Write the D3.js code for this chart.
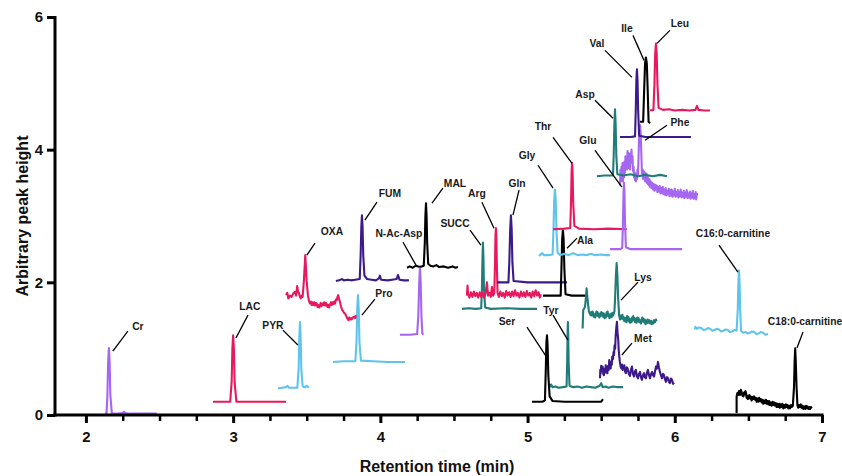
<!DOCTYPE html>
<html>
<head>
<meta charset="utf-8">
<script src="https://cdn.jsdelivr.net/npm/d3@7"></script>
<style>
  html, body { margin: 0; padding: 0; background: #fff; }
  svg { display: block; font-family: "Liberation Sans", Arial, sans-serif; }
</style>
</head>
<body>
<svg id="chart" width="842" height="476"></svg>
<script>
// ---------------- DATA ----------------
// Axis ticks
const xMajorTicks = [2, 3, 4, 5, 6, 7];
const xMinorTicks = [2.25, 2.5, 2.75, 3.25, 3.5, 3.75, 4.25, 4.5, 4.75, 5.25, 5.5, 5.75, 6.25, 6.5, 6.75];
const yTicks = [0, 2, 4, 6];

// Compound names (label text) and their colour groups
const compounds = ["Cr","LAC","PYR","Pro","OXA","FUM","MAL","N-Ac-Asp","SUCC","Arg","Gln","Ala","Gly","Thr",
  "Glu","Phe","Asp","Val","Ile","Leu","Lys","Tyr","Ser","Met","C16:0-carnitine","C18:0-carnitine"];
const colourGroup = ["lpurple","crimson","lblue","lblue","crimson","dpurple","black","lpurple","teal","crimson","dpurple","black","lblue","crimson",
  "lpurple","lpurple","teal","dpurple","black","crimson","teal","teal","black","dpurple","lblue","black"];

// Traces: [retention time (min), arbitrary peak height]
const trCr = [[2.129,0.02],[2.140,0.02],[2.146,0.3],[2.151,0.8],[2.156,1.01],[2.161,0.8],[2.166,0.3],[2.176,0.02],[2.2,0.02],[2.25,0.03],[2.258,0.05],[2.265,0.03],[2.3,0.02],[2.482,0.02]];
const trLAC = [[2.863,0.2],[2.98,0.2],[2.99,0.5],[2.995,1.0],[3.0,1.2],[3.005,1.0],[3.01,0.5],[3.022,0.2],[3.359,0.2]];
const trPYR = [[3.304,0.40],[3.33,0.41],[3.36,0.42],[3.37,0.44],[3.38,0.41],[3.42,0.41],[3.436,0.41],[3.445,0.7],[3.45,1.2],[3.454,1.40],[3.458,1.2],[3.463,0.7],[3.472,0.43],[3.49,0.42],[3.50,0.44],[3.515,0.41]];
const trPro = [[3.678,0.8],[3.75,0.81],[3.83,0.81],[3.838,1.1],[3.843,1.6],[3.848,1.81],[3.853,1.6],[3.858,1.1],[3.868,0.82],[3.95,0.81],[4.05,0.80],[4.167,0.80]];
const trOXA = [[3.359,1.807],[3.368,1.842],[3.375,1.757],[3.386,1.80],[3.397,1.782],[3.408,1.83],[3.420,1.857],[3.428,1.80],[3.435,1.943],[3.441,1.86],[3.447,1.837],[3.453,1.79],[3.459,1.757],[3.466,1.80],[3.472,1.782],[3.481,2.033],[3.490,2.41],[3.499,2.033],[3.508,1.807],[3.515,1.72],[3.522,1.682],[3.528,1.71],[3.533,1.66],[3.539,1.70],[3.544,1.657],[3.550,1.70],[3.556,1.65],[3.561,1.69],[3.567,1.682],[3.573,1.63],[3.578,1.66],[3.584,1.62],[3.590,1.651],[3.595,1.69],[3.600,1.64],[3.606,1.68],[3.612,1.657],[3.618,1.70],[3.624,1.65],[3.630,1.69],[3.635,1.672],[3.640,1.63],[3.646,1.66],[3.652,1.62],[3.658,1.662],[3.664,1.70],[3.670,1.66],[3.675,1.70],[3.680,1.672],[3.686,1.71],[3.692,1.68],[3.698,1.74],[3.703,1.732],[3.709,1.78],[3.714,1.807],[3.720,1.74],[3.726,1.706],[3.732,1.64],[3.737,1.607],[3.743,1.58],[3.748,1.56],[3.754,1.54],[3.760,1.532],[3.766,1.50],[3.771,1.48],[3.777,1.45],[3.782,1.431],[3.788,1.47],[3.794,1.44],[3.800,1.46],[3.805,1.441],[3.813,1.47],[3.821,1.480],[3.828,1.46],[3.834,1.506]];
const trFUM = [[3.698,2.02],[3.72,2.03],[3.74,2.05],[3.75,2.03],[3.78,2.04],[3.80,2.03],[3.83,2.04],[3.86,2.05],[3.866,2.4],[3.871,2.85],[3.875,3.01],[3.879,2.85],[3.884,2.4],[3.892,2.1],[3.91,2.05],[3.94,2.04],[3.97,2.03],[3.99,2.06],[3.997,2.10],[4.005,2.04],[4.05,2.03],[4.08,2.04],[4.11,2.05],[4.12,2.11],[4.13,2.04],[4.16,2.03],[4.194,2.03]];
const trMAL = [[4.181,2.22],[4.20,2.24],[4.22,2.22],[4.24,2.25],[4.27,2.23],[4.295,2.25],[4.302,2.6],[4.306,3.0],[4.31,3.19],[4.314,3.0],[4.318,2.6],[4.325,2.28],[4.34,2.25],[4.36,2.24],[4.38,2.26],[4.40,2.23],[4.43,2.24],[4.46,2.22],[4.49,2.24],[4.51,2.22],[4.527,2.23]];
const trNAcAsp = [[4.133,1.21],[4.20,1.21],[4.25,1.22],[4.258,1.5],[4.264,2.0],[4.269,2.21],[4.274,2.0],[4.279,1.5],[4.285,1.23],[4.292,1.21]];
const trSUCC = [[4.554,1.60],[4.60,1.61],[4.65,1.60],[4.685,1.61],[4.690,1.9],[4.694,2.4],[4.697,2.6],[4.700,2.4],[4.704,1.9],[4.712,1.62],[4.75,1.60],[4.85,1.61],[4.95,1.60],[5.064,1.60]];
const trArg = [[4.588,1.80],[4.592,1.95],[4.596,1.82],[4.605,1.77],[4.615,1.85],[4.625,1.78],[4.635,1.86],[4.645,1.79],[4.655,1.84],[4.665,1.77],[4.675,1.85],[4.685,1.78],[4.695,1.84],[4.705,1.77],[4.715,1.83],[4.724,2.00],[4.732,1.80],[4.742,1.84],[4.750,1.78],[4.758,1.93],[4.766,1.80],[4.774,1.84],[4.779,2.3],[4.782,2.7],[4.785,2.82],[4.788,2.7],[4.791,2.3],[4.796,1.84],[4.805,1.78],[4.815,1.86],[4.825,1.79],[4.835,1.84],[4.845,1.77],[4.855,1.87],[4.865,1.80],[4.875,1.85],[4.885,1.78],[4.895,1.86],[4.905,1.79],[4.915,1.88],[4.925,1.80],[4.935,1.84],[4.945,1.77],[4.955,1.86],[4.965,1.79],[4.975,1.85],[4.985,1.78],[4.995,1.87],[5.005,1.80],[5.015,1.84],[5.025,1.77],[5.035,1.86],[5.045,1.79],[5.055,1.88],[5.065,1.80],[5.075,1.85],[5.083,1.77],[5.091,1.82]];
const trGln = [[4.792,2.0],[4.87,2.0],[4.876,2.3],[4.882,2.8],[4.887,3.01],[4.892,2.8],[4.897,2.3],[4.905,2.02],[5.0,2.0],[5.1,2.0],[5.268,2.0]];
const trAla = [[5.105,1.80],[5.225,1.80],[5.23,2.2],[5.235,2.65],[5.24,2.79],[5.245,2.65],[5.25,2.2],[5.258,1.82],[5.30,1.80],[5.35,1.80],[5.40,1.80],[5.404,1.74]];
const trGly = [[5.077,2.40],[5.09,2.42],[5.10,2.44],[5.11,2.41],[5.14,2.41],[5.17,2.42],[5.176,2.8],[5.181,3.25],[5.186,3.40],[5.191,3.25],[5.196,2.8],[5.204,2.45],[5.22,2.41],[5.25,2.43],[5.28,2.41],[5.31,2.44],[5.34,2.41],[5.37,2.42],[5.40,2.41],[5.43,2.43],[5.46,2.41],[5.50,2.42],[5.53,2.41],[5.56,2.41]];
const trThr = [[5.173,2.80],[5.25,2.81],[5.29,2.82],[5.295,3.2],[5.299,3.65],[5.302,3.80],[5.306,3.65],[5.31,3.2],[5.318,2.85],[5.35,2.81],[5.45,2.80],[5.55,2.81],[5.675,2.80]];
const trGlu = [[5.560,2.50],[5.63,2.50],[5.643,2.52],[5.648,2.9],[5.652,3.35],[5.655,3.5],[5.658,3.35],[5.662,2.9],[5.668,2.53],[5.70,2.50],[5.80,2.50],[5.90,2.50],[6.049,2.50]];
const trPhe = [[5.628,3.46],[5.631,3.70],[5.634,3.52],[5.638,3.74],[5.641,3.60],[5.645,3.80],[5.648,3.52],[5.652,3.72],[5.655,3.58],[5.658,3.82],[5.661,3.65],[5.665,3.90],[5.668,3.74],[5.672,3.86],[5.675,3.70],[5.679,3.98],[5.682,3.80],[5.686,3.95],[5.689,3.72],[5.693,3.88],[5.696,3.70],[5.699,3.94],[5.702,3.80],[5.706,4.00],[5.709,3.82],[5.713,3.90],[5.716,3.68],[5.720,3.74],[5.723,3.58],[5.727,3.66],[5.730,3.54],[5.733,3.62],[5.736,3.52],[5.740,3.64],[5.743,3.56],[5.747,3.70],[5.750,3.62],[5.754,3.90],[5.757,4.14],[5.761,4.30],[5.764,4.37],[5.767,4.30],[5.770,4.14],[5.774,3.85],[5.777,3.64],[5.781,3.70],[5.784,3.56],[5.788,3.68],[5.791,3.58],[5.795,3.66],[5.798,3.52],[5.801,3.62],[5.804,3.56],[5.808,3.64],[5.811,3.50],[5.815,3.60],[5.818,3.48],[5.822,3.56],[5.825,3.46],[5.829,3.55],[5.832,3.44],[5.837,3.52],[5.842,3.42],[5.847,3.50],[5.852,3.40],[5.857,3.48],[5.862,3.38],[5.867,3.47],[5.872,3.40],[5.877,3.46],[5.882,3.36],[5.887,3.44],[5.893,3.37],[5.898,3.45],[5.903,3.34],[5.908,3.42],[5.913,3.35],[5.918,3.44],[5.923,3.33],[5.928,3.40],[5.933,3.32],[5.938,3.42],[5.944,3.31],[5.949,3.38],[5.954,3.33],[5.959,3.41],[5.964,3.30],[5.969,3.39],[5.974,3.31],[5.979,3.40],[5.985,3.29],[5.990,3.37],[5.995,3.31],[6.000,3.41],[6.005,3.29],[6.010,3.36],[6.015,3.30],[6.020,3.39],[6.025,3.28],[6.030,3.36],[6.035,3.30],[6.040,3.40],[6.046,3.28],[6.051,3.35],[6.056,3.29],[6.061,3.38],[6.066,3.27],[6.071,3.35],[6.076,3.29],[6.081,3.39],[6.087,3.27],[6.092,3.34],[6.097,3.28],[6.102,3.37],[6.107,3.26],[6.112,3.34],[6.117,3.28],[6.122,3.38],[6.127,3.26],[6.132,3.33],[6.137,3.27],[6.142,3.36],[6.145,3.25],[6.151,3.35]];
const trAsp = [[5.471,3.60],[5.52,3.61],[5.58,3.61],[5.585,3.9],[5.59,4.4],[5.594,4.61],[5.598,4.4],[5.603,3.9],[5.61,3.63],[5.65,3.61],[5.70,3.63],[5.75,3.60],[5.80,3.62],[5.85,3.60],[5.90,3.62],[5.947,3.60]];
const trVal = [[5.628,4.19],[5.70,4.19],[5.73,4.20],[5.735,4.6],[5.739,5.05],[5.743,5.21],[5.747,5.05],[5.751,4.6],[5.758,4.21],[5.80,4.19],[5.90,4.19],[6.0,4.19],[6.110,4.19]];
const trIle = [[5.764,4.42],[5.785,4.42],[5.792,4.9],[5.798,5.3],[5.804,5.39],[5.81,5.3],[5.816,4.9],[5.822,4.42],[5.832,4.40]];
const trLeu = [[5.832,4.59],[5.855,4.60],[5.862,5.0],[5.867,5.45],[5.872,5.60],[5.877,5.45],[5.882,5.0],[5.89,4.63],[5.92,4.60],[5.96,4.61],[6.00,4.59],[6.05,4.60],[6.10,4.59],[6.14,4.60],[6.151,4.66],[6.16,4.60],[6.20,4.59],[6.239,4.59]];
const trLys = [[5.374,1.305],[5.378,1.58],[5.390,1.63],[5.397,1.78],[5.401,1.91],[5.408,1.73],[5.417,1.556],[5.428,1.506],[5.432,1.55],[5.437,1.50],[5.441,1.56],[5.446,1.54],[5.450,1.48],[5.455,1.52],[5.460,1.47],[5.465,1.526],[5.468,1.56],[5.472,1.50],[5.476,1.55],[5.480,1.49],[5.484,1.52],[5.488,1.47],[5.492,1.53],[5.496,1.49],[5.500,1.55],[5.505,1.50],[5.509,1.54],[5.514,1.48],[5.518,1.53],[5.523,1.46],[5.528,1.51],[5.533,1.47],[5.537,1.55],[5.540,1.50],[5.544,1.56],[5.548,1.49],[5.552,1.52],[5.556,1.46],[5.560,1.51],[5.564,1.47],[5.569,1.53],[5.573,1.48],[5.578,1.54],[5.582,1.50],[5.590,1.56],[5.594,1.73],[5.600,2.10],[5.605,2.29],[5.610,2.10],[5.616,1.73],[5.622,1.50],[5.628,1.44],[5.633,1.50],[5.639,1.45],[5.644,1.51],[5.650,1.46],[5.655,1.42],[5.659,1.47],[5.664,1.41],[5.668,1.46],[5.672,1.40],[5.676,1.49],[5.680,1.43],[5.684,1.48],[5.688,1.41],[5.693,1.45],[5.697,1.39],[5.702,1.44],[5.706,1.40],[5.710,1.47],[5.714,1.42],[5.718,1.49],[5.722,1.43],[5.727,1.46],[5.731,1.40],[5.736,1.45],[5.740,1.39],[5.745,1.47],[5.750,1.41],[5.754,1.46],[5.760,1.40],[5.765,1.43],[5.770,1.38],[5.775,1.425],[5.779,1.47],[5.783,1.41],[5.787,1.45],[5.791,1.40],[5.796,1.44],[5.800,1.37],[5.805,1.42],[5.809,1.38],[5.815,1.44],[5.820,1.39],[5.826,1.43],[5.832,1.38],[5.838,1.42],[5.843,1.37],[5.849,1.41],[5.854,1.38],[5.860,1.43],[5.866,1.40],[5.872,1.44],[5.877,1.416]];
const trTyr = [[5.152,0.42],[5.16,0.46],[5.17,0.42],[5.19,0.43],[5.21,0.41],[5.24,0.42],[5.265,0.43],[5.269,0.8],[5.272,1.25],[5.274,1.40],[5.276,1.25],[5.279,0.8],[5.285,0.44],[5.31,0.42],[5.34,0.43],[5.37,0.41],[5.40,0.43],[5.43,0.42],[5.46,0.41],[5.49,0.44],[5.50,0.48],[5.51,0.42],[5.53,0.43],[5.55,0.41],[5.58,0.43],[5.61,0.42],[5.648,0.42]];
const trSer = [[5.030,0.20],[5.10,0.20],[5.118,0.22],[5.124,0.7],[5.128,1.1],[5.132,1.2],[5.136,1.05],[5.141,0.6],[5.15,0.28],[5.17,0.21],[5.25,0.20],[5.40,0.20],[5.50,0.20],[5.512,0.24]];
const trMet = [[5.492,0.553],[5.494,0.68],[5.496,0.62],[5.500,0.74],[5.505,0.66],[5.510,0.73],[5.514,0.62],[5.519,0.60],[5.524,0.70],[5.528,0.64],[5.531,0.75],[5.536,0.66],[5.542,0.63],[5.547,0.74],[5.551,0.68],[5.555,0.83],[5.560,0.74],[5.564,0.70],[5.569,0.80],[5.572,0.76],[5.575,0.88],[5.580,0.84],[5.584,0.95],[5.587,0.90],[5.591,1.05],[5.595,1.00],[5.598,1.18],[5.602,1.30],[5.607,1.405],[5.611,1.25],[5.616,1.13],[5.619,0.98],[5.623,0.88],[5.627,0.80],[5.632,0.73],[5.638,0.70],[5.642,0.76],[5.646,0.68],[5.651,0.72],[5.657,0.75],[5.662,0.66],[5.668,0.63],[5.674,0.72],[5.680,0.70],[5.688,0.62],[5.696,0.59],[5.702,0.68],[5.709,0.73],[5.716,0.62],[5.723,0.58],[5.730,0.66],[5.736,0.68],[5.743,0.58],[5.750,0.553],[5.757,0.62],[5.764,0.65],[5.770,0.57],[5.777,0.53],[5.784,0.60],[5.791,0.63],[5.797,0.57],[5.804,0.553],[5.811,0.64],[5.818,0.68],[5.825,0.60],[5.832,0.553],[5.839,0.62],[5.846,0.65],[5.852,0.60],[5.859,0.58],[5.866,0.66],[5.872,0.73],[5.879,0.70],[5.886,0.80],[5.892,0.72],[5.899,0.65],[5.906,0.60],[5.913,0.553],[5.920,0.62],[5.927,0.60],[5.933,0.54],[5.940,0.50],[5.947,0.57],[5.954,0.553],[5.960,0.50],[5.967,0.48],[5.974,0.55],[5.981,0.53],[5.988,0.47],[5.995,0.49]];
const trC16 = [[6.137,1.29],[6.14,1.33],[6.15,1.30],[6.165,1.32],[6.18,1.31],[6.195,1.28],[6.21,1.29],[6.225,1.31],[6.24,1.30],[6.255,1.27],[6.27,1.28],[6.285,1.30],[6.30,1.29],[6.315,1.26],[6.33,1.27],[6.345,1.29],[6.36,1.28],[6.375,1.25],[6.39,1.26],[6.405,1.28],[6.42,1.27],[6.428,1.6],[6.432,2.0],[6.436,2.18],[6.44,2.0],[6.444,1.6],[6.45,1.27],[6.465,1.24],[6.48,1.25],[6.495,1.23],[6.51,1.24],[6.525,1.26],[6.54,1.25],[6.555,1.22],[6.57,1.23],[6.585,1.25],[6.60,1.24],[6.615,1.21],[6.633,1.22]];
const trC18 = [[6.42,0.03],[6.42,0.28],[6.425,0.33],[6.43,0.30],[6.436,0.36],[6.443,0.30],[6.449,0.38],[6.455,0.34],[6.460,0.29],[6.466,0.28],[6.471,0.34],[6.476,0.31],[6.480,0.36],[6.484,0.33],[6.488,0.26],[6.492,0.29],[6.496,0.24],[6.50,0.27],[6.506,0.30],[6.511,0.25],[6.516,0.28],[6.522,0.22],[6.528,0.27],[6.533,0.24],[6.539,0.28],[6.545,0.23],[6.550,0.26],[6.556,0.20],[6.561,0.25],[6.567,0.20],[6.573,0.26],[6.578,0.21],[6.584,0.24],[6.59,0.19],[6.596,0.23],[6.601,0.17],[6.607,0.22],[6.613,0.18],[6.619,0.23],[6.624,0.17],[6.630,0.21],[6.635,0.16],[6.641,0.21],[6.646,0.15],[6.652,0.19],[6.658,0.14],[6.664,0.20],[6.669,0.15],[6.675,0.19],[6.681,0.14],[6.686,0.18],[6.692,0.12],[6.698,0.17],[6.703,0.12],[6.709,0.17],[6.714,0.11],[6.720,0.16],[6.726,0.12],[6.731,0.17],[6.737,0.10],[6.743,0.15],[6.749,0.11],[6.754,0.16],[6.76,0.12],[6.766,0.15],[6.771,0.10],[6.777,0.14],[6.783,0.10],[6.789,0.15],[6.794,0.12],[6.802,0.14],[6.81,0.43],[6.814,0.8],[6.818,1.005],[6.822,0.8],[6.827,0.43],[6.833,0.15],[6.838,0.11],[6.844,0.15],[6.85,0.12],[6.856,0.16],[6.861,0.11],[6.867,0.14],[6.873,0.09],[6.879,0.13],[6.885,0.09],[6.891,0.14],[6.897,0.10],[6.902,0.13],[6.908,0.09],[6.914,0.12],[6.919,0.09],[6.925,0.12],[6.93,0.10]];

const traces = [trCr, trLAC, trPYR, trPro, trOXA, trFUM, trMAL, trNAcAsp, trSUCC, trArg, trGln, trAla, trGly, trThr,
  trGlu, trPhe, trAsp, trVal, trIle, trLeu, trLys, trTyr, trSer, trMet, trC16, trC18];

// Label annotations (data units): text centre, leader start, leader end
const labelAt = [[2.353,1.34],[3.114,1.64],[3.270,1.355],[4.024,1.837],[3.671,2.771],[4.065,3.343],[4.507,3.494],[4.126,2.741],[4.507,2.892],[4.656,3.343],[4.928,3.494],[5.390,2.636],[4.996,3.916],[5.105,4.352],
  [5.410,4.142],[6.035,4.413],[5.390,4.834],[5.471,5.602],[5.675,5.828],[6.035,5.904],[5.784,2.078],[5.159,1.581],[4.860,1.416],[5.784,1.16],[6.395,2.741],[6.885,1.416]];
const leaderFrom = [[2.285,1.265],[3.101,1.506],[3.338,1.28],[3.963,1.747],[3.556,2.59],[3.977,3.208],[4.425,3.419],[4.154,2.605],[4.609,2.786],[4.690,3.208],[4.942,3.389],[5.336,2.666],[5.071,3.765],[5.173,4.187],
  [5.458,3.991],[5.947,4.367],[5.458,4.744],[5.526,5.497],[5.716,5.723],[5.967,5.798],[5.750,2.003],[5.173,1.506],[4.996,1.325],[5.709,1.084],[6.300,2.56],[6.871,1.25]];
const leaderTo = [[2.183,0.964],[3.019,1.16],[3.44,1.054],[3.875,1.506],[3.501,2.41],[3.895,2.937],[4.351,3.193],[4.242,2.259],[4.683,2.56],[4.772,2.816],[4.901,3.012],[5.268,2.515],[5.173,3.419],[5.302,3.795],
  [5.641,3.434],[5.798,4.142],[5.580,4.473],[5.709,5.09],[5.791,5.346],[5.879,5.602],[5.635,1.732],[5.274,1.13],[5.125,0.889],[5.641,0.904],[6.429,2.154],[6.830,1.009]];

// ---------------- STYLE ----------------
const palette = {
  lpurple: "#a566f0",
  crimson: "#e8185e",
  lblue:   "#5ec4ec",
  dpurple: "#3c1a8a",
  teal:    "#1f7c77",
  black:   "#000000"
};

// ---------------- DRAW ----------------
const svg = d3.select("#chart");
const x = d3.scaleLinear().domain([1.79, 7]).range([55, 822]);
const y = d3.scaleLinear().domain([0, 6]).range([415, 17]);

const line = d3.line().x(d => x(d[0])).y(d => y(d[1])).curve(d3.curveLinear);

const gTraces = svg.append("g");
gTraces.selectAll("path")
  .data(traces)
  .join("path")
  .attr("d", d => line(d))
  .attr("fill", "none")
  .attr("stroke", (d, i) => palette[colourGroup[i]])
  .attr("stroke-width", 2.1)
  .attr("stroke-linejoin", "round");

// Leader lines
svg.append("g").selectAll("line")
  .data(compounds)
  .join("line")
  .attr("x1", (d, i) => x(leaderFrom[i][0]))
  .attr("y1", (d, i) => y(leaderFrom[i][1]))
  .attr("x2", (d, i) => x(leaderTo[i][0]))
  .attr("y2", (d, i) => y(leaderTo[i][1]))
  .attr("stroke", "#000")
  .attr("stroke-width", 1.3);

// Labels
svg.append("g").selectAll("text")
  .data(compounds)
  .join("text")
  .attr("x", (d, i) => x(labelAt[i][0]))
  .attr("y", (d, i) => y(labelAt[i][1]))
  .attr("text-anchor", "middle")
  .attr("dominant-baseline", "central")
  .attr("font-size", "10.3px")
  .attr("font-weight", "bold")
  .attr("fill", "#1a1a1a")
  .text(d => d);

// Axes
const xAxisMinor = d3.axisBottom(x).tickValues(xMinorTicks).tickSize(6).tickSizeOuter(0).tickFormat("");
const xAxis = d3.axisBottom(x).tickValues(xMajorTicks).tickSize(8).tickSizeOuter(0).tickPadding(8).tickFormat(d3.format("d"));
const yAxis = d3.axisLeft(y).tickValues(yTicks).tickSize(8).tickSizeOuter(0).tickPadding(4).tickFormat(d3.format("d"));

const gxm = svg.append("g").attr("transform", "translate(0,415)").call(xAxisMinor);
gxm.select(".domain").remove();
gxm.selectAll(".tick line").attr("stroke-width", 2.5);

const gx = svg.append("g").attr("transform", "translate(0,415)").call(xAxis);
gx.select(".domain").attr("stroke-width", 3).attr("d", `M53,0H${x(7)+1.5}`);
gx.selectAll(".tick line").attr("stroke-width", 3);
gx.selectAll(".tick text").attr("font-size", "15px").attr("font-weight", "bold")
  .attr("font-family", "'Liberation Sans', Arial, sans-serif").attr("fill", "#111");

const gy = svg.append("g").attr("transform", "translate(55,0)").call(yAxis);
gy.select(".domain").attr("stroke-width", 3).attr("d", `M0,${y(0)+1.5}V${y(6)-1}`);
gy.selectAll(".tick line").attr("stroke-width", 3);
gy.selectAll(".tick text").attr("font-size", "15px").attr("font-weight", "bold")
  .attr("font-family", "'Liberation Sans', Arial, sans-serif").attr("fill", "#111");

// Axis titles
svg.append("text")
  .attr("x", 437).attr("y", 466)
  .attr("text-anchor", "middle").attr("dominant-baseline", "central")
  .attr("font-size", "16px").attr("font-weight", "bold").attr("fill", "#111")
  .text("Retention time (min)");

svg.append("text")
  .attr("transform", "translate(22,216) rotate(-90)")
  .attr("text-anchor", "middle").attr("dominant-baseline", "central")
  .attr("font-size", "16px").attr("font-weight", "bold").attr("fill", "#111")
  .text("Arbitrary peak height");
</script>
</body>
</html>
